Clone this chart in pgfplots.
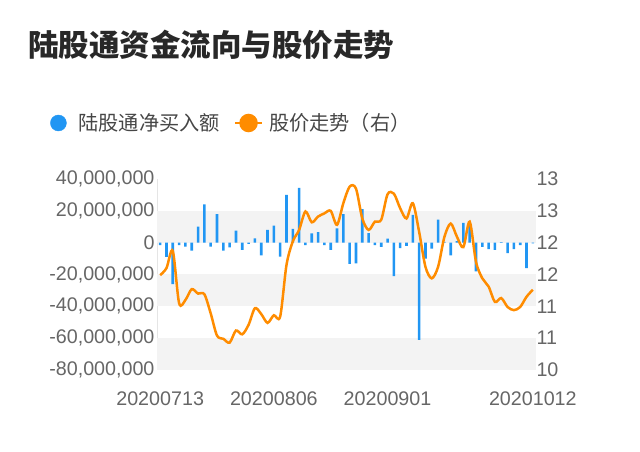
\documentclass[border=0pt]{standalone}
\usepackage{pgfplots}
\pgfplotsset{compat=1.18}
\usepackage{fontspec}
\setmainfont{Liberation Sans}
\newfontfamily\cjk{Noto Sans CJK SC}
\definecolor{barblue}{RGB}{33,150,243}
\definecolor{lineorange}{RGB}{255,140,0}
\definecolor{band}{RGB}{243,243,243}
\definecolor{ticktext}{RGB}{102,102,102}
\definecolor{titletext}{RGB}{40,40,40}
\definecolor{legtext}{RGB}{70,70,70}
\begin{document}
\begin{tikzpicture}
\path[use as bounding box] (0,0) rectangle (640pt,452pt);
\node[anchor=west, font=\cjk\bfseries\fontsize{30.5}{36}\selectfont, text=titletext, inner sep=0pt] at (28pt,407pt) {陆股通资金流向与股价走势};
\begin{axis}[
  at={(157pt,82pt)}, anchor=south west,
  scale only axis, width=379pt, height=191pt,
  xmin=-0.5, xmax=59.5,
  ymin=-80, ymax=40,
  ytick={-80,-60,-40,-20,0,20,40},
  yticklabels={{-80,000,000},{-60,000,000},{-40,000,000},{-20,000,000},0,{20,000,000},{40,000,000}},
  xtick={0,18,36,59},
  xticklabels={20200713,20200806,20200901,20201012},
  axis y line*=left, axis x line*=bottom,
  y axis line style={draw=black!10},
  x axis line style={draw=none},
  major tick length=0pt,
  tick label style={font=\fontsize{19.7}{22}\selectfont, text=ticktext},
  yticklabel style={xshift=1pt},
  xticklabel style={yshift=-18pt},
  /pgf/number format/assume math mode=true,
]
\fill[band] (axis cs:-0.5,0) rectangle (axis cs:59.5,20);
\fill[band] (axis cs:-0.5,-40) rectangle (axis cs:59.5,-20);
\fill[band] (axis cs:-0.5,-80) rectangle (axis cs:59.5,-60);
\addplot[ybar, bar width=2.6pt, fill=barblue, draw=none] coordinates {
(0,-1.6) (1,-9) (2,-26) (3,-1.5) (4,-2.5) (5,-5) (6,10) (7,24) (8,-2.5) (9,18)
(10,-5) (11,-3) (12,7.5) (13,-4.5) (14,-0.7) (15,2.7) (16,-8) (17,8) (18,10.7) (19,-8.7)
(20,30) (21,8.7) (22,34.5) (23,-1.5) (24,5.8) (25,6.6) (26,-1.5) (27,-4.5) (28,9) (29,18)
(30,-13.4) (31,-13) (32,21) (33,6) (34,-1.6) (35,-2.7) (36,2.5) (37,-21) (38,-3.5) (39,-2)
(40,17.5) (41,-61) (42,-10) (43,-3.7) (44,14.5) (45,0.5) (46,-8) (47,1) (48,12.5) (49,12)
(50,-18) (51,-2.7) (52,-4) (53,-4.5) (54,0.3) (55,-6.5) (56,-4) (57,-1.6) (58,-16) (59,-0.5)
};
\end{axis}
\begin{axis}[
  at={(157pt,82pt)}, anchor=south west,
  scale only axis, width=379pt, height=191pt,
  xmin=-0.5, xmax=59.5,
  ymin=10, ymax=13,
  ytick={10,10.5,11,11.5,12,12.5,13},
  yticklabels={10,11,11,12,12,13,13},
  axis y line*=right, axis x line=none,
  y axis line style={draw=none},
  major tick length=0pt,
  tick label style={font=\fontsize{19.7}{22}\selectfont, text=ticktext},
  yticklabel style={xshift=-3pt},
  /pgf/number format/assume math mode=true,
  legend style={at={(-0.2823,1.2932)}, anchor=west, draw=none, fill=none, inner sep=0pt,
    font=\cjk\fontsize{20.2}{24}\selectfont, text=legtext,
    /tikz/every even column/.append style={column sep=12pt}},
  legend columns=2,
]
\addlegendimage{legend image code/.code={\path[draw=none,fill=none] (0pt,0pt) (26pt,0pt); \fill[barblue] (8pt,0pt) circle (8pt);}}
\addlegendentry{陆股通净买入额}
\addplot[lineorange, line width=2.5pt, smooth, mark=none,
  legend image code/.code={\path[draw=none,fill=none] (0pt,0pt) (32pt,0pt); \draw[lineorange, line width=2.5pt] (0pt,0pt) -- (27pt,0pt); \fill[lineorange] (13.5pt,0pt) circle (8pt);}] coordinates {
(0,11.49) (1,11.60) (2,11.87) (3,11.05) (4,11.10) (5,11.27) (6,11.20) (7,11.19) (8,10.89) (9,10.54)
(10,10.49) (11,10.43) (12,10.62) (13,10.56) (14,10.71) (15,10.97) (16,10.88) (17,10.74) (18,10.86) (19,10.84)
(20,11.65) (21,12.02) (22,12.20) (23,12.49) (24,12.32) (25,12.41) (26,12.46) (27,12.50) (28,12.28) (29,12.62)
(30,12.88) (31,12.85) (32,12.38) (33,12.20) (34,12.33) (35,12.36) (36,12.76) (37,12.77) (38,12.54) (39,12.38)
(40,12.62) (41,12.17) (42,11.62) (43,11.44) (44,11.62) (45,12.09) (46,12.30) (47,12.09) (48,11.93) (49,12.33)
(50,11.70) (51,11.44) (52,11.31) (53,11.07) (54,11.13) (55,10.99) (56,10.94) (57,10.99) (58,11.15) (59,11.26)
};
\addlegendentry{股价走势（右）}
\end{axis}
\end{tikzpicture}
\end{document}
